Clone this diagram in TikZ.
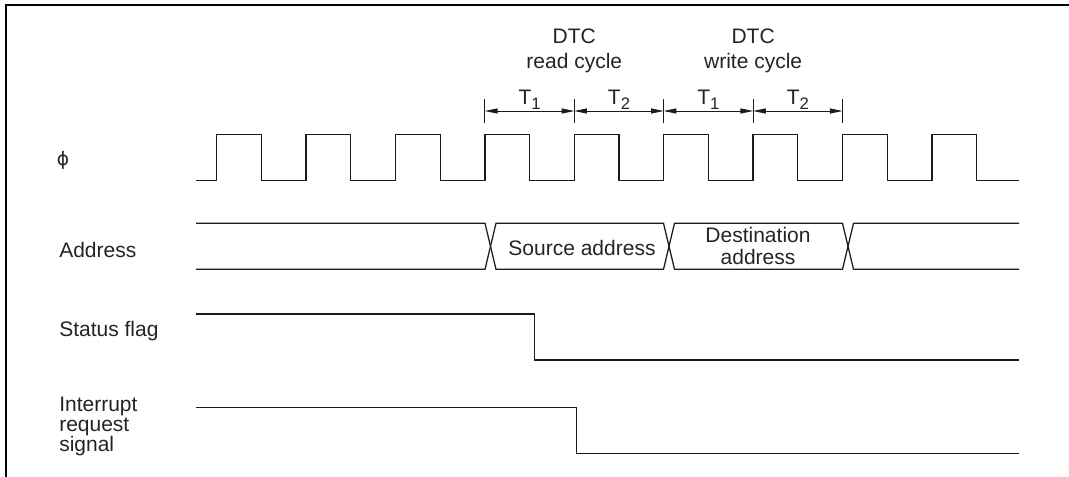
\documentclass[tikz,border=0pt]{standalone}
\usepackage{fontspec}
\setmainfont{Liberation Sans}
\newfontfamily\tdSymFont{DejaVu Sans}
\usetikzlibrary{arrows.meta,positioning,calc}
\definecolor{tdInk}{HTML}{1C1C1C}
\definecolor{tdText}{HTML}{242424}
\newcommand{\tdFont}{\fontsize{15.75}{14.5}\selectfont}
\newcommand{\tsub}[2]{#1\raisebox{-0.45ex}{\fontsize{12.5}{12.5}\selectfont #2}}

\begin{document}
\begin{tikzpicture}[x=0.75pt,y=-0.75pt,font=\tdFont,text=tdText,
  wave/.style={draw=tdInk,line width=0.95pt,line join=miter},
  signame/.style={inner sep=0pt,anchor=base west,align=left},
  dimtick/.style={draw=tdInk,line width=0.75pt},
  dimarrow/.style={draw=tdInk,line width=0.6pt,
    {Triangle[length=9.5pt,width=3.8pt]}-{Triangle[length=9.5pt,width=3.8pt]}}]
  \useasboundingbox (0,0) rectangle (1069,477);
  \draw[black,line width=1.8pt] (6,477) -- (6,5) -- (1069,5);

  \node[inner sep=0pt,font=\tdSymFont\fontsize{14}{14}\selectfont] (phi) at (63,160) {ϕ};
  \node[signame] (addr) at (59,257.7) {Address};
  \node[signame] (flag) at (59,336) {Status flag};
  \node[signame,anchor=north west] (irq) at (59,397) {Interrupt\\request\\signal};

  \draw[wave] (196,180.3) foreach \k in {0,...,8} {
      -- ({216.7+89.4*\k},180.3) -- ({216.7+89.4*\k},134.3)
      -- ({261.4+89.4*\k},134.3) -- ({261.4+89.4*\k},180.3)} -- (1019,180.3);

  \draw[wave] (196,223.3) -- (485,223.3) -- (496,269.3) -- (663.5,269.3) -- (674.5,223.3)
    -- (842.5,223.3) -- (853.5,269.3) -- (1019,269.3);
  \draw[wave] (196,269.3) -- (485,269.3) -- (496,223.3) -- (663.5,223.3) -- (674.5,269.3)
    -- (842.5,269.3) -- (853.5,223.3) -- (1019,223.3);
  \node[inner sep=0pt,anchor=base] (src) at (582,255) {Source address};
  \node[inner sep=0pt,align=center,font=\fontsize{15.75}{16.5}\selectfont] (dst) at (758,246.3)
    {Destination\\address};

  \draw[wave] (196,314) -- (534.7,314) -- (534.7,360) -- (1019,360);
  \draw[wave] (196,407.7) -- (576.7,407.7) -- (576.7,453.7) -- (1019,453.7);

  \foreach \i/\x in {0/484.9,1/574.3,2/663.7,3/753.1,4/842.5} {
    \coordinate (tk\i) at (\x,111);
    \draw[dimtick] (\x,99) -- (\x,123);
  }
  \foreach \a/\b/\t in {0/1/1,1/2/2,2/3/1,3/4/2} {
    \draw[dimarrow] (tk\a) -- (tk\b);
    \node[inner sep=0pt,anchor=base] (t\a) at ($(tk\a)!0.5!(tk\b)+(0,-6)$) {\tsub{T}{\t}};
  }
  \node[inner sep=0pt,align=center,font=\fontsize{15.75}{18.75}\selectfont] (rd) at (574.3,50.5)
    {DTC\\read cycle};
  \node[inner sep=0pt,align=center,font=\fontsize{15.75}{18.75}\selectfont] (wr) at (753.1,50.5)
    {DTC\\write cycle};
\end{tikzpicture}
\end{document}
